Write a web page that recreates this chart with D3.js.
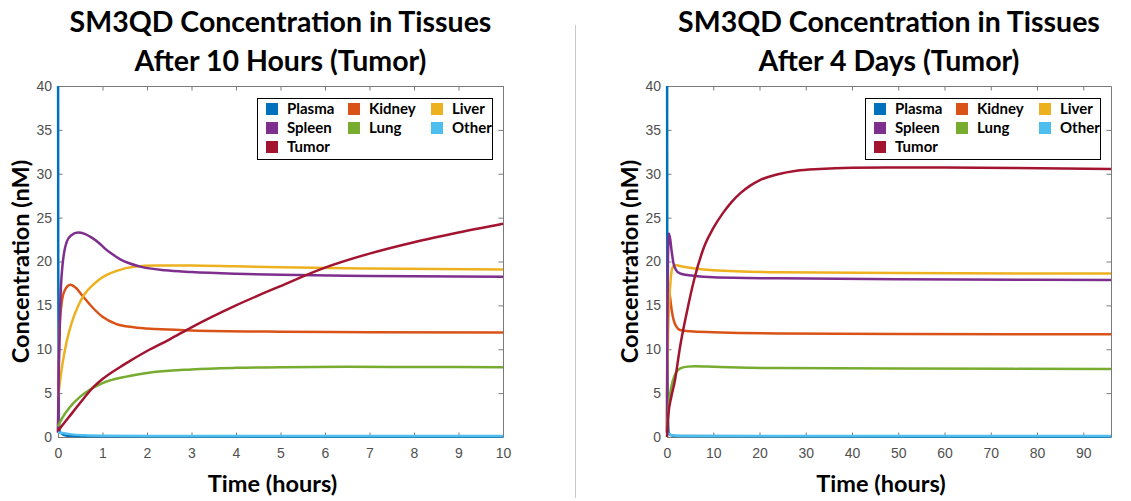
<!DOCTYPE html>
<html>
<head>
<meta charset="utf-8">
<script src="https://cdn.jsdelivr.net/npm/d3@7"></script>
<style>
    body { margin: 0; background: #fff; }
    .tick text { font-family: "Liberation Sans", Arial, sans-serif; font-size: 14px; fill: #505050; }
    .axis path, .axis line { stroke: #7a7a7a; }
    .title, .label, .legend text { font-family: Lato, "Open Sans", sans-serif; font-weight: bold; fill: #000; }
</style>
</head>
<body>
<svg class="chart" width="1131" height="501"></svg>
<script>
// tissues in plotting / legend order
var tissues = ["Plasma", "Kidney", "Liver", "Spleen", "Lung", "Other", "Tumor"];
var tissueColors = ["#0072BD", "#D95319", "#EDB120", "#7E2F8E", "#77AC30", "#4DBEEE", "#A2142F"];

var yTicks = [0, 5, 10, 15, 20, 25, 30, 35, 40];
var xTicks10h = [0, 1, 2, 3, 4, 5, 6, 7, 8, 9, 10];
var xTicks4d = [0, 10, 20, 30, 40, 50, 60, 70, 80, 90];

// 10 hour run: [hours, nM]
var plasma10h = [[0, 60], [0.005, 20], [0.02, 2], [0.05, 0.5], [0.2, 0.15], [1, 0.08], [10, 0.05]];
var kidney10h = [[0, 0.5], [0.01, 6], [0.03, 11.5], [0.07, 14.8], [0.15, 16.7], [0.28, 17.35], [0.4, 17.0],
                 [0.55, 16.1], [0.75, 14.9], [1.0, 13.7], [1.3, 12.9], [1.7, 12.5], [2.2, 12.3], [3, 12.15],
                 [5, 12.0], [7, 11.95], [10, 11.9]];
var liver10h = [[0, 4.5], [0.05, 6.5], [0.1, 8.3], [0.2, 11], [0.3, 12.9], [0.45, 14.9], [0.6, 16.3],
                [0.8, 17.4], [1.0, 18.2], [1.3, 18.9], [1.7, 19.4], [2.2, 19.55], [3, 19.55], [4, 19.45],
                [5, 19.35], [7, 19.2], [10, 19.08]];
var spleen10h = [[0, 0.5], [0.02, 8], [0.05, 15], [0.1, 19.5], [0.2, 22.3], [0.3, 23.0], [0.45, 23.3],
                 [0.6, 23.15], [0.75, 22.75], [0.9, 22.2], [1.05, 21.5], [1.2, 20.9], [1.4, 20.25],
                 [1.6, 19.8], [1.85, 19.42], [2.4, 19.0], [3, 18.8], [4, 18.6], [5, 18.48], [7, 18.35], [10, 18.25]];
var lung10h = [[0, 1.2], [0.1, 2.2], [0.25, 3.3], [0.5, 4.6], [0.75, 5.5], [1, 6.15], [1.5, 6.85],
               [2, 7.3], [3, 7.7], [4, 7.88], [5, 7.96], [6.5, 8.0], [8, 7.98], [10, 7.95]];
var other10h = [[0, 0.55], [0.1, 0.45], [0.3, 0.3], [0.6, 0.2], [1, 0.15], [2, 0.12], [4, 0.1], [10, 0.1]];
var tumor10h = [[0, 0.7], [0.25, 2.3], [0.5, 3.9], [0.8, 5.7], [1, 6.6], [1.5, 8.3], [2, 9.8],
                [2.5, 11.1], [3, 12.5], [4, 15.0], [5, 17.2], [6, 19.3], [7, 20.9], [8, 22.2], [9, 23.3], [10, 24.3]];

// 4 day run: [hours, nM]
var plasma4d = [[0, 60], [0.05, 20], [0.2, 2], [0.5, 0.3], [2, 0.1], [96, 0.05]];
var kidney4d = [[0, 0.5], [0.05, 10], [0.15, 16], [0.3, 17.3], [0.6, 16.2], [1.0, 14.5], [1.5, 13.2],
                [2, 12.6], [2.8, 12.2], [5, 12.05], [10, 11.95], [24, 11.8], [50, 11.75], [96, 11.7]];
var liver4d = [[0, 4.5], [0.1, 8], [0.25, 12], [0.5, 15.6], [0.8, 18], [1.2, 19.3], [1.8, 19.6], [3, 19.45],
               [6, 19.2], [10, 19.0], [24, 18.77], [50, 18.68], [96, 18.62]];
var spleen4d = [[0, 0.5], [0.08, 12], [0.2, 20], [0.4, 23.2], [0.7, 22.5], [1.0, 21.2], [1.4, 19.8],
                [2, 19.0], [2.8, 18.65], [4, 18.5], [6, 18.35], [10, 18.2], [24, 18.08], [50, 17.98], [96, 17.9]];
var lung4d = [[0, 1], [0.3, 3.0], [0.7, 5.0], [1.3, 6.5], [2, 7.4], [3, 7.85], [4.5, 8.02], [6, 8.05],
              [10, 8.0], [24, 7.85], [50, 7.8], [96, 7.74]];
var other4d = [[0, 0.5], [1, 0.2], [3, 0.12], [96, 0.1]];
var tumor4d = [[0, 0], [0.3, 2.6], [0.9, 4.5], [1.7, 6.4], [2.8, 10.2], [4.2, 14.0], [5.9, 18.0], [8.2, 21.9],
               [10, 23.8], [12.2, 25.6], [14, 26.8], [16, 27.85], [18, 28.65], [20, 29.25], [24, 29.95],
               [28, 30.35], [33, 30.55], [40, 30.68], [50, 30.72], [60, 30.7], [75, 30.65], [96, 30.55]];

var svg = d3.select(".chart");

// thin separator between the two panels
svg.append("line")
    .attr("x1", 575.5).attr("x2", 575.5)
    .attr("y1", 25).attr("y2", 498)
    .attr("stroke", "#c8c8c8");

function renderPanel(id, left, right, xMax, xTicks, title1, title2, series) {
    var top = 86, bottom = 437, tick = 4.5;

    var x = d3.scaleLinear().domain([0, xMax]).range([left, right]);
    var y = d3.scaleLinear().domain([0, 40]).range([bottom, top]);

    var g = svg.append("g");

    // axes box with inward ticks
    g.append("g").attr("class", "axis")
        .attr("transform", "translate(0," + bottom + ")")
        .call(d3.axisBottom(x).tickValues(xTicks).tickSizeInner(-tick).tickSizeOuter(0).tickPadding(11));
    g.append("g").attr("class", "axis")
        .attr("transform", "translate(0," + top + ")")
        .call(d3.axisTop(x).tickValues(xTicks).tickSizeInner(-tick).tickSizeOuter(0).tickFormat(""));
    g.append("g").attr("class", "axis")
        .attr("transform", "translate(" + left + ",0)")
        .call(d3.axisLeft(y).tickValues(yTicks).tickSizeInner(-tick).tickSizeOuter(0).tickPadding(6));
    g.append("g").attr("class", "axis")
        .attr("transform", "translate(" + right + ",0)")
        .call(d3.axisRight(y).tickValues(yTicks).tickSizeInner(-tick).tickSizeOuter(0).tickFormat(""));

    g.selectAll(".axis .domain").attr("stroke", "#7a7a7a");

    svg.append("clipPath").attr("id", id)
        .append("rect")
        .attr("x", left - 2).attr("y", top)
        .attr("width", right - left + 4).attr("height", bottom - top + 2);

    var line = d3.line()
        .x(function(d) { return x(d[0]); })
        .y(function(d) { return y(d[1]); })
        .curve(d3.curveMonotoneX);

    g.append("g").attr("clip-path", "url(#" + id + ")")
        .selectAll("path")
        .data(series)
        .enter().append("path")
        .attr("d", line)
        .attr("fill", "none")
        .attr("stroke", function(d, i) { return tissueColors[i]; })
        .attr("stroke-width", 2.5)
        .attr("stroke-linejoin", "round");

    // titles and labels
    var cx = (left + right) / 2;
    g.append("text").attr("class", "title")
        .attr("x", cx).attr("y", 32).attr("text-anchor", "middle")
        .style("font-size", "28.5px").text(title1);
    g.append("text").attr("class", "title")
        .attr("x", cx).attr("y", 71).attr("text-anchor", "middle")
        .style("font-size", "28.5px").text(title2);
    g.append("text").attr("class", "label")
        .attr("x", cx - 8).attr("y", 492).attr("text-anchor", "middle")
        .style("font-size", "23.5px").text("Time (hours)");
    g.append("text").attr("class", "label")
        .attr("transform", "translate(" + (left - 29) + "," + ((top + bottom) / 2) + ") rotate(-90)")
        .attr("text-anchor", "middle")
        .style("font-size", "23.5px").text("Concentration (nM)");

    // legend, three columns, filled row by row
    var boxW = 235, boxH = 61;
    var legend = g.append("g").attr("class", "legend")
        .attr("transform", "translate(" + (right - 11 - boxW) + "," + (top + 12) + ")");
    legend.append("rect")
        .attr("x", 0.5).attr("y", 0.5)
        .attr("width", boxW).attr("height", boxH)
        .attr("fill", "#fff").attr("stroke", "#000");
    var colX = [9, 91, 174];
    var item = legend.selectAll(".item")
        .data(tissues)
        .enter().append("g")
        .attr("class", "item")
        .attr("transform", function(d, i) {
            return "translate(" + colX[i % 3] + "," + (11 + 19 * Math.floor(i / 3)) + ")";
        });
    item.append("rect")
        .attr("x", 0).attr("y", -6)
        .attr("width", 12).attr("height", 12)
        .attr("fill", function(d, i) { return tissueColors[i]; });
    item.append("text")
        .attr("x", 21).attr("y", 5)
        .style("font-size", "15px")
        .text(function(d) { return d; });
}

renderPanel("clip10h", 58, 503, 10, xTicks10h,
    "SM3QD Concentration in Tissues", "After 10 Hours (Tumor)",
    [plasma10h, kidney10h, liver10h, spleen10h, lung10h, other10h, tumor10h]);

renderPanel("clip4d", 667, 1111, 96, xTicks4d,
    "SM3QD Concentration in Tissues", "After 4 Days (Tumor)",
    [plasma4d, kidney4d, liver4d, spleen4d, lung4d, other4d, tumor4d]);
</script>
</body>
</html>
